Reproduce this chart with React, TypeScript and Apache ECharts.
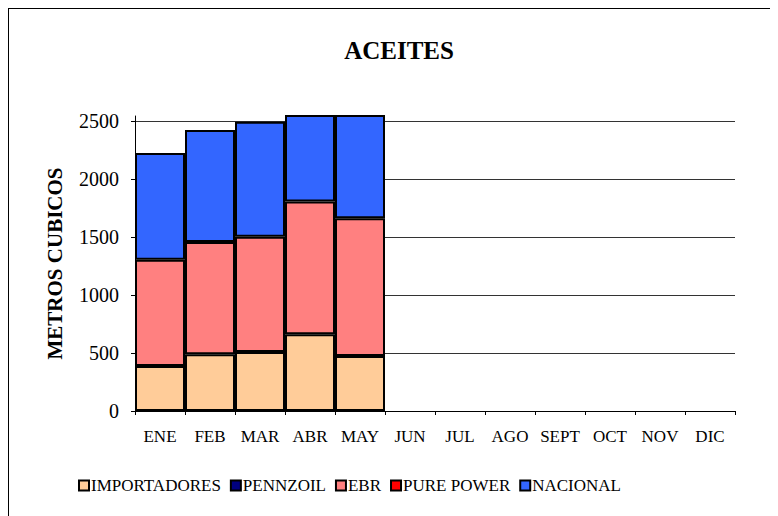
import React, { useEffect, useRef } from "react";
import * as echarts from "echarts";

const months = ["ENE", "FEB", "MAR", "ABR", "MAY", "JUN", "JUL", "AGO", "SEPT", "OCT", "NOV", "DIC"];
const importadores = [388, 489, 509, 661, 474, null, null, null, null, null, null, null];
const pennzoil = [null, null, null, null, null, null, null, null, null, null, null, null];
const ebr = [916, 968, 994, 1144, 1187, null, null, null, null, null, null, null];
const purePower = [null, null, null, null, null, null, null, null, null, null, null, null];
const nacional = [920, 965, 991, 900, 950, null, null, null, null, null, null, null];
const yTicks = [0, 500, 1000, 1500, 2000, 2500];

const FONT = "'Liberation Serif', 'Times New Roman', serif";

export default function App() {
  const ref = useRef<HTMLDivElement>(null);
  useEffect(() => {
    if (!ref.current) return;
    const chart = echarts.init(ref.current, undefined, { renderer: "svg" });
    const mk = (name: string, data: (number | null)[], color: string) => ({
      name,
      type: "bar",
      stack: "total",
      data,
      barCategoryGap: "0%",
      itemStyle: { color, borderColor: "#000", borderWidth: 2 },
    });
    chart.setOption({
      animation: false,
      textStyle: { fontFamily: FONT },
      title: {
        text: "ACEITES",
        left: 385,
        top: 24,
        textAlign: "center",
        textStyle: { fontFamily: FONT, fontWeight: "bold", fontSize: 25, color: "#000" },
      },
      grid: { left: 126, top: 107, width: 600, height: 295 },
      legend: {
        left: 64,
        top: 463,
        itemWidth: 10,
        itemHeight: 10,
        itemGap: 9,
        icon: "rect",
        textStyle: { fontFamily: FONT, fontSize: 17, color: "#000", padding: [0, 0, 0, -3] },
        data: ["IMPORTADORES", "PENNZOIL", "EBR", "PURE POWER", "NACIONAL"],
      },
      xAxis: {
        type: "category",
        data: months,
        axisLine: { lineStyle: { color: "#000", width: 1 } },
        axisTick: { show: true, length: 4, lineStyle: { color: "#000" } },
        axisLabel: { color: "#000", fontFamily: FONT, fontSize: 17, margin: 17, interval: 0 },
      },
      yAxis: {
        type: "value",
        min: yTicks[0],
        max: 2543,
        interval: 500,
        name: "METROS CUBICOS",
        nameLocation: "middle",
        nameGap: 70,
        nameTextStyle: { fontFamily: FONT, fontWeight: "bold", fontSize: 21, color: "#000" },
        axisLine: { show: true, lineStyle: { color: "#000", width: 1 } },
        axisTick: { show: true, length: 4, lineStyle: { color: "#000" }, customValues: yTicks },
        axisLabel: {
          color: "#000",
          fontFamily: FONT,
          fontSize: 20,
          margin: 16,
          customValues: yTicks,
          formatter: (v: number) => String(v),
        },
        splitLine: { show: true, lineStyle: { color: "#333", width: 1 } },
      },
      series: [
        mk("IMPORTADORES", importadores, "#FFCC99"),
        mk("PENNZOIL", pennzoil, "#000080"),
        mk("EBR", ebr, "#FF8080"),
        mk("PURE POWER", purePower, "#FF0000"),
        mk("NACIONAL", nacional, "#3366FF"),
      ],
    });
    return () => chart.dispose();
  }, []);
  return (
    <div
      style={{
        width: 770,
        height: 508,
        borderLeft: "1px solid #000",
        borderTop: "1px solid #000",
        boxSizing: "border-box",
        background: "#fff",
      }}
    >
      <div ref={ref} style={{ width: 769, height: 507 }} />
    </div>
  );
}
